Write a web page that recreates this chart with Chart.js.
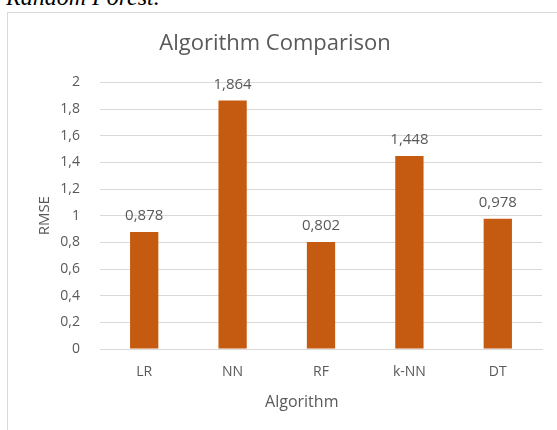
<!DOCTYPE html>
<html>
<head>
<meta charset="utf-8">
<script src="https://cdn.jsdelivr.net/npm/chart.js@4.4.0/dist/chart.umd.min.js"></script>
<style>
  html, body { margin: 0; padding: 0; background: #fff; overflow: hidden; }
  body { width: 557px; height: 430px; position: relative; }
  #caption { position: absolute; left: 6px; top: -16px; font: italic 24px "Liberation Serif", serif; line-height: 1.107; color: #000; white-space: nowrap; }
  #box { position: absolute; left: 7px; top: 12px; width: 550px; height: 418px; border-left: 1px solid #d9d9d9; border-top: 1px solid #d9d9d9; box-sizing: border-box; background: #fff; }
  #box canvas { position: absolute; left: 0; top: 0; }
</style>
</head>
<body>
<div id="caption">Random Forest.</div>
<div id="box"><canvas id="chartRmse" width="549" height="417"></canvas></div>
<script>
// datos
const algoritmos = ["LR", "NN", "RF", "k-NN", "DT"];
const valoresRmse = [0.878, 1.864, 0.802, 1.448, 0.978];
const tituloX = "Algorithm";

const gris = "#595959";
const fuente = "'Open Sans', sans-serif";
const coma = v => String(Math.round(v * 1000) / 1000).replace(".", ",");

// etiquetas encima de cada barra y titulo del eje x
const etiquetasBarras = {
    id: "etiquetasBarras",
    afterDatasetsDraw(chart) {
        const ctx = chart.ctx;
        const area = chart.chartArea;
        ctx.save();
        ctx.fillStyle = gris;
        ctx.textAlign = "center";
        ctx.textBaseline = "middle";
        ctx.font = "15px " + fuente;
        chart.getDatasetMeta(0).data.forEach((barra, i) => {
            ctx.fillText(coma(valoresRmse[i]), barra.x, barra.y - 16);
        });
        ctx.font = "16px " + fuente;
        const xTitulo = (chart.width / 2 + (area.left + area.right) / 2) / 2;
        ctx.fillText(tituloX, xTitulo, area.bottom + 53);
        ctx.restore();
    }
};

const ctx = document.getElementById("chartRmse").getContext("2d");
new Chart(ctx, {
    type: "bar",
    data: {
        labels: algoritmos,
        datasets: [{
            label: "RMSE",
            data: valoresRmse,
            backgroundColor: "#C55A11",
            borderWidth: 0,
            categoryPercentage: 1,
            barPercentage: 0.32
        }]
    },
    options: {
        responsive: false,
        animation: false,
        layout: { padding: { left: 0, right: 15, top: 0, bottom: 0 } },
        plugins: {
            legend: { display: false },
            tooltip: { enabled: false },
            title: {
                display: true,
                text: "Algorithm Comparison",
                color: gris,
                font: { family: fuente, size: 22, weight: "normal" },
                padding: { top: 18, bottom: 25 }
            }
        },
        scales: {
            x: {
                grid: { display: false, drawTicks: false },
                border: { display: true, color: "#d9d9d9" },
                ticks: { color: gris, font: { family: fuente, size: 14 }, padding: 15 },
                afterFit(scale) { scale.height = 81; }
            },
            y: {
                min: 0,
                max: 2,
                grid: { color: "#d9d9d9", drawTicks: false },
                border: { display: false },
                ticks: { stepSize: 0.2, color: gris, font: { family: fuente, size: 14 }, padding: 20, callback: v => coma(v) },
                title: { display: true, text: "RMSE", color: gris, font: { family: fuente, size: 15 }, padding: { top: 28, bottom: 0 } },
                afterFit(scale) { scale.width = 92; }
            }
        }
    },
    plugins: [etiquetasBarras]
});
</script>
</body>
</html>
